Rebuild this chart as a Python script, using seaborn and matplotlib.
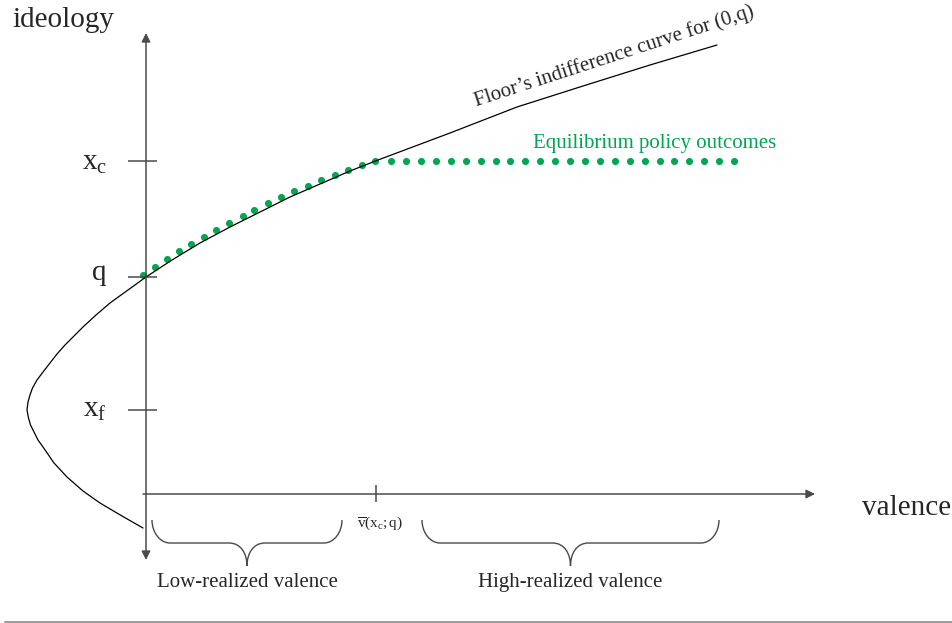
import matplotlib
matplotlib.use('Agg')
import matplotlib.pyplot as plt
from matplotlib.path import Path
from matplotlib.patches import PathPatch
import seaborn as sns

# schematic units: origin where the two axes cross
curve_valence = [-3, -24, -46, -63, -79, -92, -103, -108, -112, -115.5,
                 -117.5, -119, -118, -116, -113.5, -109, -103, -96, -89, -81,
                 -72, -63, -50, -36, -18, 0, 26, 54, 84, 114, 144, 174, 204,
                 232, 268, 304, 371, 437, 504, 571]
curve_ideology = [-34, -22, -9, 3, 17, 31, 47, 54, 62, 69,
                  76, 84, 92, 99, 106, 114, 122, 131, 140, 149,
                  158, 167, 179, 191, 204, 217, 234, 251, 267, 282, 297, 310,
                  323, 334, 347.5, 361, 387, 408, 429, 449]

low_dots_valence = [-3, 9, 21, 33, 45, 58, 70, 83, 97, 108, 122, 135, 148,
                    162, 175, 189, 202, 216]
low_dots_ideology = [219, 227, 235, 243, 250, 257, 264.5, 271, 278, 284.5,
                     291, 297, 303, 308.5, 314, 319.5, 324.5, 329.5]
high_dots_valence = [229, 245, 260, 275, 290, 305, 320, 335, 350, 364, 379,
                     394, 409, 424, 439, 454, 469, 484, 499, 514, 528, 543,
                     558, 573, 588]
high_dots_ideology = [333] * len(high_dots_valence)

ytick_values = [333, 217, 84]
ytick_labels = [r'$\mathrm{x_c}$', r'$\mathrm{q}$', r'$\mathrm{x_f}$']
vbar = 230
vbar_label = r'$\overline{\mathrm{v}}(\mathrm{x}_{\mathrm{c}};\mathrm{q})$'

brace_spans = [(6, 196), (276, 573)]
brace_labels = ['Low-realized valence', 'High-realized valence']

green = '#00a651'
axis_color = '#4a4a4a'

sns.set_style('white')
plt.rcParams['font.family'] = ['Liberation Serif', 'DejaVu Serif']
plt.rcParams['mathtext.fontset'] = 'custom'
plt.rcParams['mathtext.rm'] = 'Liberation Serif'
plt.rcParams['mathtext.it'] = 'Liberation Serif:italic'


def brace(ax, left, right, top=-26, mid=-49, tip=-72, r=18):
    c = (left + right) / 2
    k = 0.55
    verts = [
        (left, top),
        (left, top + k * (mid - top)), (left + r * (1 - k), mid), (left + r, mid),
        (c - r, mid),
        (c - r * 0.35, mid), (c, mid + 0.45 * (tip - mid)), (c, tip),
        (c, mid + 0.45 * (tip - mid)), (c + r * 0.35, mid), (c + r, mid),
        (right - r, mid),
        (right - r * (1 - k), mid), (right, top + k * (mid - top)), (right, top),
    ]
    codes = [Path.MOVETO,
             Path.CURVE4, Path.CURVE4, Path.CURVE4,
             Path.LINETO,
             Path.CURVE4, Path.CURVE4, Path.CURVE4,
             Path.CURVE4, Path.CURVE4, Path.CURVE4,
             Path.LINETO,
             Path.CURVE4, Path.CURVE4, Path.CURVE4]
    ax.add_patch(PathPatch(Path(verts, codes), fill=False,
                           edgecolor=axis_color, lw=1.0))
    return c


fig = plt.figure(figsize=(9.53, 6.23), dpi=100)
ax = fig.add_axes([0, 0, 1, 1])
ax.set_xlim(-146, 807)
ax.set_ylim(-129, 494)
ax.axis('off')

# axes with arrows
ax.annotate('', xy=(0, 461), xytext=(0, -66),
            arrowprops=dict(arrowstyle='<|-|>', color=axis_color, lw=1.1,
                            mutation_scale=13, shrinkA=0, shrinkB=0))
ax.annotate('', xy=(669, 0), xytext=(-3, 0),
            arrowprops=dict(arrowstyle='-|>', color=axis_color, lw=1.1,
                            mutation_scale=13, shrinkA=0, shrinkB=0))
ax.hlines(ytick_values, -18, 11, color=axis_color, lw=1.1)
ax.vlines(vbar, -8, 9, color=axis_color, lw=1.1)

# indifference curve and equilibrium outcomes
sns.lineplot(x=curve_valence, y=curve_ideology, sort=False, estimator=None,
             color='black', lw=0.9, ax=ax)
sns.scatterplot(x=low_dots_valence + high_dots_valence,
                y=low_dots_ideology + high_dots_ideology,
                color=green, s=26, linewidth=0, ax=ax)

# text
ax.text(-134, 467, 'ideology', fontsize=21, ha='left', va='baseline')
ax.text(716, -21, 'valence', fontsize=21, ha='left', va='baseline')
for val, lab, base in zip(ytick_values, ytick_labels, [-9, -3, -7]):
    ax.text(-39, val + base, lab, fontsize=21, ha='right', va='baseline')
ax.text(vbar + 4, -33, vbar_label, fontsize=11, ha='center', va='baseline')
ax.text(387, 346, 'Equilibrium policy outcomes', fontsize=15, color=green,
        ha='left', va='baseline')
ax.text(330, 388, 'Floor\u2019s indifference curve for (0,q)', fontsize=15,
        rotation=18, rotation_mode='anchor', ha='left', va='baseline')

for (lo, hi), lab in zip(brace_spans, brace_labels):
    c = brace(ax, lo, hi)
    ax.text(c, -93, lab, fontsize=15, ha='center', va='baseline')

ax.plot([-141, 807], [-128, -128], color='#9a9a9a', lw=1.4)

fig.savefig('out.png', dpi=100)
